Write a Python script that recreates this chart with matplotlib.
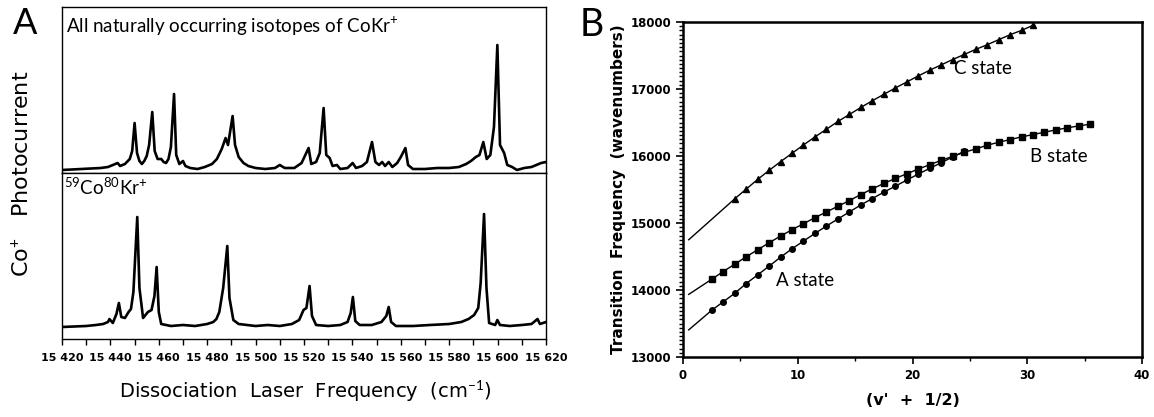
import matplotlib
matplotlib.use("Agg")
import matplotlib.pyplot as plt
from matplotlib.ticker import MultipleLocator, FuncFormatter

W, H = 1154, 417

# Panel A: spectra as vertices (frequency in cm-1, signal above baseline)
ALL_FREQ = [15420, 15424, 15428, 15432, 15436, 15439, 15441, 15443, 15444, 15446,
            15448, 15449, 15450, 15451, 15452, 15453, 15454, 15455, 15456, 15457.3,
            15458.3, 15459.5, 15461, 15462, 15463, 15464, 15465, 15466.3, 15467.2, 15468.5,
            15470, 15471, 15473, 15476, 15479, 15482, 15484, 15486, 15487.6, 15488.6,
            15490.5, 15491.5, 15493, 15495, 15497, 15500, 15504, 15508, 15510, 15512,
            15516, 15519, 15521.9, 15523, 15525, 15526.5, 15528.1, 15529.2, 15530.6, 15531.8,
            15533.6, 15535, 15538, 15540.1, 15541.5, 15544, 15546, 15548.1, 15549.5, 15551,
            15552.3, 15553.5, 15555, 15556.5, 15558.5, 15560, 15561.9, 15563, 15565, 15570,
            15575, 15580, 15584, 15587, 15589, 15591, 15592.5, 15594.1, 15595.5, 15597,
            15598.5, 15599.9, 15601, 15602.7, 15604, 15606, 15608, 15611, 15614, 15616,
            15618, 15620]
ALL_SIG = [1, 1.5, 2, 2.5, 3, 4, 6, 8, 5, 7,
           12, 20, 48, 18, 10, 7, 10, 15, 26, 59,
           20, 12, 12, 9, 8, 12, 24, 77, 16, 7,
           10, 5, 3, 2, 4, 7, 12, 22, 33, 26,
           55, 26, 14, 8, 5, 3, 2, 3, 6, 3,
           3, 8, 23, 7, 9, 18, 63, 16, 13, 5,
           6, 2, 3, 8, 3, 5, 9, 29, 9, 6,
           9, 5, 9, 4, 8, 14, 23, 6, 2, 2,
           3, 3, 4, 7, 10, 14, 16, 29, 12, 16,
           44, 126, 26, 18, 6, 4, 1, 3, 4, 6,
           8, 9]

CO80_FREQ = [15420, 15425, 15430, 15434, 15437, 15439, 15439.6, 15441, 15442.5, 15443.5,
             15444.5, 15446, 15447.5, 15448.5, 15449.5, 15451.1, 15452, 15453.5, 15455.5, 15457,
             15458.2, 15459.1, 15460, 15461, 15465, 15470, 15475, 15480, 15482.5, 15483.8,
             15485, 15486.6, 15488.3, 15489.2, 15490.8, 15493, 15500, 15505, 15510, 15515,
             15518, 15519.8, 15521, 15522.3, 15523.3, 15525, 15530, 15535, 15538, 15539.3,
             15540.2, 15541.2, 15543, 15548, 15552, 15554, 15555, 15556, 15558, 15565,
             15572, 15580, 15585, 15588, 15590.3, 15592, 15593, 15594.4, 15595.4, 15596.5,
             15599, 15599.9, 15601, 15605, 15610, 15614, 15616.5, 15617.5, 15620]
CO80_SIG = [1, 1.5, 2, 3, 4, 6, 9, 5, 14, 25,
            11, 10, 16, 19, 36, 111, 40, 10, 16, 18,
            32, 61, 16, 4, 2, 3, 2, 4, 6, 9,
            16, 40, 82, 30, 8, 4, 2, 3, 2, 4,
            8, 18, 20, 42, 12, 3, 2, 3, 6, 15,
            31, 7, 3, 3, 6, 12, 21, 6, 2, 2,
            3, 4, 6, 9, 13, 20, 45, 114, 40, 5,
            3, 8, 3, 2, 3, 4, 9, 4, 6]

FREQ_TICKS = [15420, 15440, 15460, 15480, 15500, 15520, 15540, 15560, 15580, 15600, 15620]

# Panel B: transition frequency (wavenumbers) vs (v' + 1/2)
C_V = [4.5, 5.5, 6.5, 7.5, 8.5, 9.5, 10.5, 11.5, 12.5, 13.5, 14.5, 15.5, 16.5, 17.5,
       18.5, 19.5, 20.5, 21.5, 22.5, 23.5, 24.5, 25.5, 26.5, 27.5, 28.5, 29.5, 30.5]
C_NU = [15360, 15505, 15650, 15785, 15915, 16040, 16165, 16285, 16400, 16515, 16620, 16725,
        16825, 16920, 17015, 17105, 17195, 17280, 17360, 17440, 17515, 17590, 17660, 17735,
        17810, 17875, 17950]
C_START = (0.5, 14750)

B_V = [2.5, 3.5, 4.5, 5.5, 6.5, 7.5, 8.5, 9.5, 10.5, 11.5, 12.5, 13.5, 14.5, 15.5, 16.5,
       17.5, 18.5, 19.5, 20.5, 21.5, 22.5, 23.5, 24.5, 25.5, 26.5, 27.5, 28.5, 29.5, 30.5,
       31.5, 32.5, 33.5, 34.5, 35.5]
B_NU = [14160, 14275, 14385, 14495, 14600, 14705, 14805, 14900, 14990, 15080, 15165, 15250,
        15335, 15425, 15510, 15590, 15665, 15735, 15805, 15870, 15935, 15995, 16055, 16105,
        16160, 16205, 16245, 16285, 16320, 16355, 16390, 16420, 16450, 16475]
B_START = (0.5, 13935)

A_V = [2.5, 3.5, 4.5, 5.5, 6.5, 7.5, 8.5, 9.5, 10.5, 11.5, 12.5, 13.5, 14.5, 15.5, 16.5,
       17.5, 18.5, 19.5, 20.5, 21.5, 22.5, 23.5, 24.5]
A_NU = [13697, 13823, 13950, 14095, 14225, 14355, 14490, 14615, 14730, 14845, 14955, 15060,
        15165, 15270, 15365, 15460, 15550, 15640, 15730, 15815, 15900, 15985, 16070]
A_START = (0.5, 13405)


def px_axes(fig, left, top, right, bottom):
    return fig.add_axes([left / W, 1 - bottom / H, (right - left) / W, (bottom - top) / H])


plt.rcParams["mathtext.fontset"] = "custom"
plt.rcParams["mathtext.rm"] = "Lato"
LBL = dict(family=["Lato", "DejaVu Sans"])

fig = plt.figure(figsize=(W / 100, H / 100), dpi=100)

# ---- panel A ----
top = px_axes(fig, 62, 7, 546, 173)
bot = px_axes(fig, 62, 173, 546, 339)
top.plot(ALL_FREQ, ALL_SIG, color="black", lw=1.9)
bot.plot(CO80_FREQ, CO80_SIG, color="black", lw=1.9)
top.set_ylim(-2, 164)
bot.set_ylim(-11, 155)
for ax in (top, bot):
    ax.set_xlim(15420, 15620)
    ax.set_yticks([])
    for sp in ax.spines.values():
        sp.set_linewidth(1.0)
top.set_xticks([])
bot.set_xticks(FREQ_TICKS)
bot.xaxis.set_minor_locator(MultipleLocator(10))
bot.xaxis.set_major_formatter(FuncFormatter(lambda v, p: f"{int(v) // 1000} {int(v) % 1000:03d}"))
bot.tick_params(axis="x", which="both", direction="out", length=4, width=1,
                labelsize=8, pad=6)
for t in bot.get_xticklabels():
    t.set_fontweight("bold")

fig.text(66 / W, 1 - 33 / H, "All naturally occurring isotopes of CoKr$^{+}$",
         fontsize=13.5, va="baseline", ha="left", **LBL)
fig.text(64 / W, 1 - 195 / H, "$^{59}$Co$^{80}$Kr$^{+}$",
         fontsize=13.5, va="baseline", ha="left", **LBL)
fig.text(305 / W, 1 - 391 / H, "Dissociation  Laser  Frequency  (cm$^{-1}$)",
         fontsize=14, ha="center", va="center", family="DejaVu Sans")
fig.text(22 / W, 1 - 174 / H, "Co$^{+}$   Photocurrent", rotation=90,
         fontsize=16, ha="center", va="center", family="DejaVu Sans")
fig.text(13 / W, 1 - 34 / H, "A", fontsize=26, ha="left", va="baseline", **LBL)

# ---- panel B ----
axb = px_axes(fig, 683, 22, 1142, 357)
for (v0, n0), vs, ns, mk in ((C_START, C_V, C_NU, "^"),
                             (B_START, B_V, B_NU, "s"),
                             (A_START, A_V, A_NU, "o")):
    axb.plot([v0] + vs, [n0] + ns, color="black", lw=1.0)
    axb.plot(vs, ns, ls="none", marker=mk, ms=4, color="black")
axb.set_xlim(0, 40)
axb.set_ylim(13000, 18000)
axb.xaxis.set_major_locator(MultipleLocator(10))
axb.xaxis.set_minor_locator(MultipleLocator(5))
axb.yaxis.set_major_locator(MultipleLocator(1000))
axb.yaxis.set_minor_locator(MultipleLocator(62.5))
axb.tick_params(which="major", direction="out", length=5, width=1.2, labelsize=8.5)
axb.tick_params(which="minor", direction="out", length=3, width=1)
for t in axb.get_xticklabels() + axb.get_yticklabels():
    t.set_fontweight("bold")
for sp in axb.spines.values():
    sp.set_linewidth(1.8)
axb.set_xlabel("(v'  +  1/2)", fontsize=11.5, fontweight="bold", labelpad=8)
axb.set_ylabel("Transition  Frequency  (wavenumbers)", fontsize=11,
               fontweight="bold", labelpad=3)

axb.text(23.6, 17300, "C state", fontsize=13.5, ha="left", va="center", **LBL)
axb.text(30.2, 15990, "B state", fontsize=13.5, ha="left", va="center", **LBL)
axb.text(8.1, 14135, "A state", fontsize=13.5, ha="left", va="center", **LBL)
fig.text(580 / W, 1 - 36 / H, "B", fontsize=27, ha="left", va="baseline", **LBL)

fig.savefig("out.png", dpi=100)
